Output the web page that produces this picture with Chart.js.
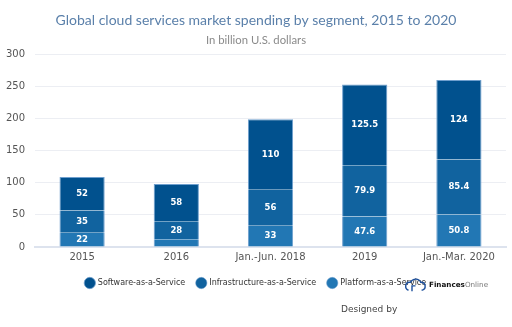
<!DOCTYPE html>
<html>
<head>
<meta charset="utf-8">
<script src="https://cdn.jsdelivr.net/npm/chart.js@4"></script>
<style>
  html, body { margin: 0; padding: 0; background: #fff; }
  #wrap { position: relative; width: 512px; height: 327px; }
  canvas { display: block; }
  #logo { position: absolute; left: 403px; top: 277px; white-space: nowrap; font: 7.2px "DejaVu Sans", sans-serif; color: #111; line-height: 15px; }
  #logo b { font-weight: bold; }
  #logo span { color: #777; }
  #logo svg { vertical-align: middle; margin-right: 1px; }
  #designed { position: absolute; left: 341px; top: 304px; white-space: nowrap; font: 9px "DejaVu Sans", sans-serif; color: #444; }
</style>
</head>
<body>
<div id="wrap">
  <canvas id="barChart" width="512" height="327"></canvas>
  <div id="logo"><svg width="25" height="14" viewBox="0 0 26 16"><path d="M5 14 C0 12 1 4 7 5 C10 0 17 0 19 5 C25 4 26 13 20 14" fill="none" stroke="#1c4f9c" stroke-width="1.6"/><path d="M9 15 L9 9 L13 9" fill="none" stroke="#1c4f9c" stroke-width="1.6"/></svg><b>Finances</b><span>Online</span></div>
  <div id="designed">Designed by</div>
</div>
<script>
var categories = ['2015', '2016', 'Jan.-Jun. 2018', '2019', 'Jan.-Mar. 2020'];
var software = [52, 58, 110, 125.5, 124];
var infrastructure = [35, 28, 56, 79.9, 85.4];
var platform = [22, 12, 33, 47.6, 50.8];
var yTicks = [0, 50, 100, 150, 200, 250, 300];

var colors = ['#01518e', '#11639f', '#2277b4'];

// white labels centred on each segment (skipped when the segment is too small)
var segmentLabels = {
    id: 'segmentLabels',
    afterDatasetsDraw: function(chart) {
        var ctx = chart.ctx;
        ctx.save();
        ctx.font = 'bold 8.5px "DejaVu Sans", sans-serif';
        ctx.fillStyle = '#fff';
        ctx.textAlign = 'center';
        ctx.textBaseline = 'middle';
        chart.data.datasets.forEach(function(ds, i) {
            chart.getDatasetMeta(i).data.forEach(function(bar, j) {
                if (Math.abs(bar.base - bar.y) < 10) return;
                ctx.fillText(String(ds.data[j]), bar.x, (bar.y + bar.base) / 2);
            });
        });
        ctx.restore();
    }
};

var barChart = new Chart(document.getElementById('barChart'), {
    type: 'bar',
    data: {
        labels: categories,
        datasets: [{
            label: 'Software-as-a-Service',
            data: software,
            backgroundColor: colors[0],
            borderColor: '#6f9fce',
            borderWidth: { left: 1, right: 1, top: 1, bottom: 0 },
            order: 3
        }, {
            label: 'Infrastructure-as-a-Service',
            data: infrastructure,
            backgroundColor: colors[1],
            borderColor: '#6f9fce',
            borderWidth: { left: 1, right: 1, top: 0, bottom: 0 },
            order: 2
        }, {
            label: 'Platform-as-a-Service',
            data: platform,
            backgroundColor: colors[2],
            borderColor: '#6f9fce',
            borderWidth: { left: 1, right: 1, top: 0, bottom: 0 },
            order: 1
        }]
    },
    options: {
        responsive: false,
        animation: false,
        layout: { padding: { left: 6, right: 6, bottom: 30 } },
        datasets: { bar: { categoryPercentage: 1, barPercentage: 0.48 } },
        plugins: {
            title: {
                display: true,
                text: 'Global cloud services market spending by segment, 2015 to 2020',
                color: '#5b80aa',
                font: { family: 'Lato', size: 14, weight: 'normal' },
                padding: { top: 12, bottom: 4 }
            },
            subtitle: {
                display: true,
                text: 'In billion U.S. dollars',
                color: '#8a8a8a',
                font: { family: 'Lato', size: 11.3 },
                padding: { top: 1, bottom: 7 }
            },
            legend: {
                position: 'bottom',
                reverse: true,
                labels: {
                    usePointStyle: true,
                    pointStyle: 'circle',
                    boxWidth: 8,
                    boxHeight: 8,
                    padding: 12,
                    color: '#333',
                    font: { family: 'DejaVu Sans', size: 8 }
                }
            },
            tooltip: { enabled: false }
        },
        scales: {
            x: {
                stacked: true,
                grid: { display: false, drawTicks: false },
                border: { color: '#dde3ee', width: 2 },
                ticks: { color: '#555', font: { family: 'DejaVu Sans', size: 10 }, padding: 4 }
            },
            y: {
                stacked: true,
                min: 0,
                max: 300,
                afterBuildTicks: function(axis) {
                    axis.ticks = yTicks.map(function(v) { return { value: v }; });
                },
                afterFit: function(axis) { axis.width = 29; },
                grid: { color: '#eceef3', drawTicks: false },
                border: { display: false },
                ticks: { color: '#555', font: { family: 'DejaVu Sans', size: 10 }, padding: 10 }
            }
        }
    },
    plugins: [segmentLabels]
});
</script>
</body>
</html>
